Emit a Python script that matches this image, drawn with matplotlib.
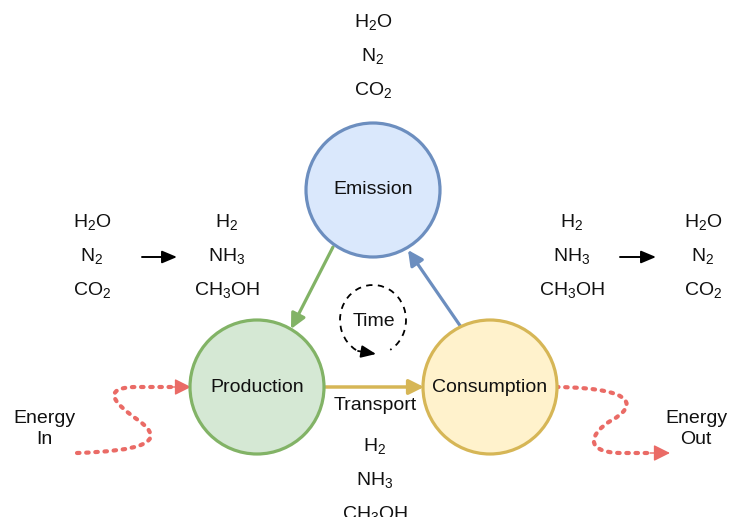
import matplotlib.pyplot as plt
from matplotlib.patches import Circle, Arc, FancyArrowPatch, PathPatch
from matplotlib.path import Path

plt.rcParams['font.family'] = ['Liberation Sans', 'DejaVu Sans']
plt.rcParams['mathtext.fontset'] = 'custom'
plt.rcParams['mathtext.rm'] = 'Liberation Sans'
plt.rcParams['mathtext.it'] = 'Liberation Sans'

# nodes of the cycle: name, centre (px), fill, edge
node_names = ["Emission", "Production", "Consumption"]
node_centres = [(373, 190), (257, 387), (490, 387)]
node_fills = ["#dae8fc", "#d5e8d4", "#fff2cc"]
node_edges = ["#6c8ebf", "#82b366", "#d6b656"]
node_radius = 67

# chemical species stacks
raw_species = [r"H$_2$O", r"N$_2$", r"CO$_2$"]
fuel_species = [r"H$_2$", r"NH$_3$", r"CH$_3$OH"]
stack_spacing = 34

FS = 14
C_RED = "#ea6b66"

fig = plt.figure(figsize=(7.36, 5.17), dpi=100)
ax = fig.add_axes([0, 0, 1, 1])
ax.set_xlim(0, 736)
ax.set_ylim(517, 0)
ax.axis('off')


def stack(x, y0, items):
    for i, s in enumerate(items):
        ax.text(x, y0 + i * stack_spacing, s, ha='center', va='center', fontsize=FS, color='#111111')


# arrows between nodes (drawn first, circles on top)
head = '-|>,head_length=9,head_width=4.5'
green = FancyArrowPatch((333, 247), (291, 329), arrowstyle=head,
                        color=node_edges[1], lw=2.3, shrinkA=0, shrinkB=0, zorder=1)
blue = FancyArrowPatch((461, 327), (408, 250), arrowstyle=head,
                       color=node_edges[0], lw=2.3, shrinkA=0, shrinkB=0, zorder=1)
transport = FancyArrowPatch((322, 387), (424, 387), arrowstyle=head,
                            color=node_edges[2], lw=2.5, shrinkA=0, shrinkB=0, zorder=1)
for a in (green, blue, transport):
    ax.add_patch(a)
ax.text(375, 405, "Transport", ha='center', va='center', fontsize=FS, color='#111111')

for name, (cx, cy), fc, ec in zip(node_names, node_centres, node_fills, node_edges):
    ax.add_patch(Circle((cx, cy), node_radius, facecolor=fc, edgecolor=ec, lw=2.3, zorder=2))
    ax.text(cx, cy, name, ha='center', va='center', fontsize=FS, color='#111111', zorder=3)

# species text
stack(373, 22, raw_species)
stack(92, 222, raw_species)
stack(227, 222, fuel_species)
stack(572, 222, fuel_species)
stack(703, 222, raw_species)
stack(375, 446, fuel_species)

for x0, x1 in [(142, 177), (620, 656)]:
    ax.add_patch(FancyArrowPatch((x0, 257), (x1, 257), arrowstyle='-|>,head_length=9,head_width=3.8',
                                 color='black', lw=1.4, shrinkA=0, shrinkB=0))

# time loop
ax.add_patch(Arc((373, 320), 66, 70, theta1=100, theta2=420, ls=(0, (3.5, 3)), lw=1.3, color='black'))
ax.add_patch(FancyArrowPatch((358, 351), (376, 354), arrowstyle='-|>,head_length=9,head_width=3.8',
                             color='black', lw=1.3, shrinkA=0, shrinkB=0))
ax.text(374, 321, "Time", ha='center', va='center', fontsize=FS, color='#111111')

# energy in / out wavy dotted arrows
curve_codes = [Path.MOVETO] + [Path.CURVE4] * 6 + [Path.LINETO]
energy_in = Path([(77, 453), (138, 451), (170, 443), (138, 420),
                  (115, 404), (100, 388), (135, 387), (176, 387)], curve_codes)
energy_out = Path([(556, 387), (642, 388), (634, 408), (612, 420),
                   (590, 433), (583, 452), (620, 453), (652, 453)], curve_codes)
for p in (energy_in, energy_out):
    ax.add_patch(PathPatch(p, fill=False, edgecolor=C_RED, lw=3, ls=(0, (0.6, 1.6)),
                           capstyle='round', zorder=1))
ax.add_patch(FancyArrowPatch((172, 387), (191, 387), arrowstyle='-|>,head_length=10,head_width=5',
                             color=C_RED, lw=1, shrinkA=0, shrinkB=0, zorder=1))
ax.add_patch(FancyArrowPatch((650, 453), (670, 453), arrowstyle='-|>,head_length=10,head_width=5',
                             color=C_RED, lw=1, shrinkA=0, shrinkB=0, zorder=1))

ax.text(44, 429, "Energy\nIn", ha='center', va='center', fontsize=FS, linespacing=1.3, color='#111111')
ax.text(696, 429, "Energy\nOut", ha='center', va='center', fontsize=FS, linespacing=1.3, color='#111111')

fig.savefig("out.png", dpi=100)
